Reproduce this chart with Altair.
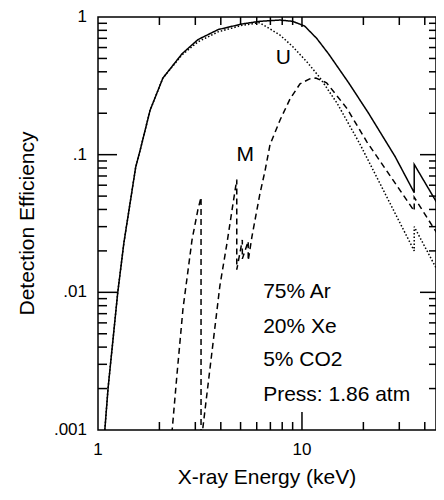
import altair as alt
import pandas as pd

# ---- data (energy keV, efficiency) ----
total_E = [1.08, 1.12, 1.25, 1.34, 1.53, 1.61, 1.80, 2.08, 2.58, 3.09, 3.88, 5.08, 6.2, 7.8, 9.0, 10.3, 11.8, 13.5, 17.0, 21.2, 28.6, 35.5, 35.5, 50.0]
total_eff = [0.001, 0.002, 0.01, 0.023, 0.081, 0.108, 0.21, 0.36, 0.54, 0.685, 0.81, 0.89, 0.93, 0.95, 0.93, 0.86, 0.70, 0.54, 0.33, 0.20, 0.097, 0.053, 0.085, 0.036]

u_E = [1.08, 1.12, 1.25, 1.34, 1.53, 1.61, 1.80, 2.08, 2.58, 3.09, 3.88, 5.08, 6.2, 7.8, 9.0, 10.6, 12.2, 14.9, 19.2, 35.5, 35.5, 50.0]
u_eff = [0.001, 0.002, 0.01, 0.023, 0.081, 0.108, 0.21, 0.36, 0.53, 0.66, 0.78, 0.87, 0.91, 0.74, 0.61, 0.47, 0.365, 0.235, 0.12, 0.020, 0.030, 0.0115]

m_E = [2.25, 2.31, 2.44, 2.61, 2.89, 3.09, 3.2, 3.2,
       3.22, 3.27, 3.96, 4.29, 4.59, 4.79, 4.79,
       5.10, 5.10, 5.45, 5.45, 5.69, 6.22, 6.58, 6.97, 7.8, 8.75, 9.78, 10.9, 11.7, 13.2, 16.6, 20.8, 35.5, 35.5, 50.0]
m_eff = [0.0008, 0.001, 0.00255, 0.0076, 0.024, 0.040, 0.049, 0.0008,
         0.0008, 0.00105, 0.0112, 0.0228, 0.044, 0.066, 0.0146,
         0.024, 0.0175, 0.0235, 0.017, 0.0256, 0.052, 0.0755, 0.118, 0.178, 0.255, 0.327, 0.355, 0.36, 0.333, 0.217, 0.124, 0.039, 0.049, 0.022]

curve_labels = ["U", "M"]
curve_label_E = [8.1, 5.27]
curve_label_eff = [0.50, 0.10]

gas_lines = ["75% Ar", "20% Xe", "5% CO2", "Press: 1.86 atm"]
gas_E = [6.45, 6.45, 6.45, 6.45]
gas_eff = [0.01, 0.0056, 0.0032, 0.0018]

x_label_vals = [1, 10]
x_label_text = ["1", "10"]
y_label_vals = [1, 0.1, 0.01, 0.001]
y_label_text = ["1", ".1", ".01", ".001"]
x_title = "X-ray Energy (keV)"
y_title = "Detection Efficiency"

x_minor = [2, 3, 4, 5, 6, 7, 8, 9, 20, 30, 40]
x_major = [10]
y_minor = [0.002, 0.003, 0.004, 0.005, 0.006, 0.007, 0.008, 0.009,
           0.02, 0.03, 0.04, 0.05, 0.06, 0.07, 0.08, 0.09,
           0.2, 0.3, 0.4, 0.5, 0.6, 0.7, 0.8, 0.9]
y_major = [0.1, 0.01]

rows = []
for name, Es, vs in [("total", total_E, total_eff), ("U", u_E, u_eff), ("M", m_E, m_eff)]:
    for i, (e, v) in enumerate(zip(Es, vs)):
        rows.append({"series": name, "E": e, "eff": v, "idx": i})
df = pd.DataFrame(rows)

lab_df = pd.DataFrame({"t": curve_labels, "E": curve_label_E, "eff": curve_label_eff})
gas_df = pd.DataFrame({"t": gas_lines, "E": gas_E, "eff": gas_eff})
xlab_df = pd.DataFrame({"E": x_label_vals, "t": x_label_text})
ylab_df = pd.DataFrame({"eff": y_label_vals, "t": y_label_text})
xtitle_df = pd.DataFrame({"t": [x_title]})
ytitle_df = pd.DataFrame({"t": [y_title]})

W, H = 338, 413
FONT = "Liberation Sans"
xscale = alt.Scale(type="log", domain=[1, 45.4], nice=False)
yscale = alt.Scale(type="log", domain=[0.001, 1], nice=False)

lines = alt.Chart(df).mark_line(clip=True, color="black", strokeWidth=1.5).encode(
    x=alt.X("E:Q", scale=xscale, axis=None),
    y=alt.Y("eff:Q", scale=yscale, axis=None),
    detail="series:N",
    strokeDash=alt.StrokeDash("series:N", scale=alt.Scale(
        domain=["total", "U", "M"], range=[[1, 0], [1.5, 2], [6, 4]]), legend=None),
    order="idx:Q",
)


def xticks(vals, y0, y1):
    return alt.Chart(pd.DataFrame({"E": vals})).mark_rule(color="black", strokeWidth=1.5).encode(
        x=alt.X("E:Q", scale=xscale, axis=None), y=alt.value(y0), y2=alt.value(y1))


def yticks(vals, x0, x1):
    return alt.Chart(pd.DataFrame({"eff": vals})).mark_rule(color="black", strokeWidth=1.5).encode(
        y=alt.Y("eff:Q", scale=yscale, axis=None), x=alt.value(x0), x2=alt.value(x1))


tick_layers = [
    xticks(x_minor, H, H - 8), xticks(x_major, H, H - 18),
    xticks(x_minor, 0, 8), xticks(x_major, 0, 10),
    yticks(y_minor, 0, 9), yticks(y_major, 0, 19),
    yticks(y_minor, W, W - 7), yticks(y_major, W, W - 16),
]

curve_text = alt.Chart(lab_df).mark_text(font=FONT, fontSize=21, color="black", align="center", baseline="middle").encode(
    x=alt.X("E:Q", scale=xscale, axis=None),
    y=alt.Y("eff:Q", scale=yscale, axis=None),
    text="t:N",
)
gas_text = alt.Chart(gas_df).mark_text(font=FONT, fontSize=21, color="black", align="left", baseline="middle").encode(
    x=alt.X("E:Q", scale=xscale, axis=None),
    y=alt.Y("eff:Q", scale=yscale, axis=None),
    text="t:N",
)

# axis labels and titles as text marks
xlabels = alt.Chart(xlab_df).mark_text(font=FONT, fontSize=17, color="black", align="center", baseline="middle").encode(
    x=alt.X("E:Q", scale=xscale, axis=None),
    y=alt.value(H + 20),
    text="t:N",
)
ylabels = alt.Chart(ylab_df).mark_text(font=FONT, fontSize=17, color="black", align="right", baseline="middle").encode(
    y=alt.Y("eff:Q", scale=yscale, axis=None),
    x=alt.value(-11),
    text="t:N",
)
xtitle = alt.Chart(xtitle_df).mark_text(font=FONT, fontSize=21, color="black", align="center", baseline="middle").encode(
    x=alt.value(W / 2),
    y=alt.value(H + 48),
    text="t:N",
)
ytitle = alt.Chart(ytitle_df).mark_text(font=FONT, fontSize=21, color="black", align="center", baseline="middle", angle=270).encode(
    x=alt.value(-70),
    y=alt.value(H / 2),
    text="t:N",
)

chart = alt.layer(lines, *tick_layers, curve_text, gas_text, xlabels, ylabels, xtitle, ytitle).properties(
    width=W, height=H,
    autosize=alt.AutoSizeParams(type="none"),
    padding={"left": 90, "top": 9, "right": 0, "bottom": 60},
    background="white",
).configure_view(stroke="black", strokeWidth=1.5)

chart.save("out.html", embed_options={"renderer": "svg", "actions": False})
